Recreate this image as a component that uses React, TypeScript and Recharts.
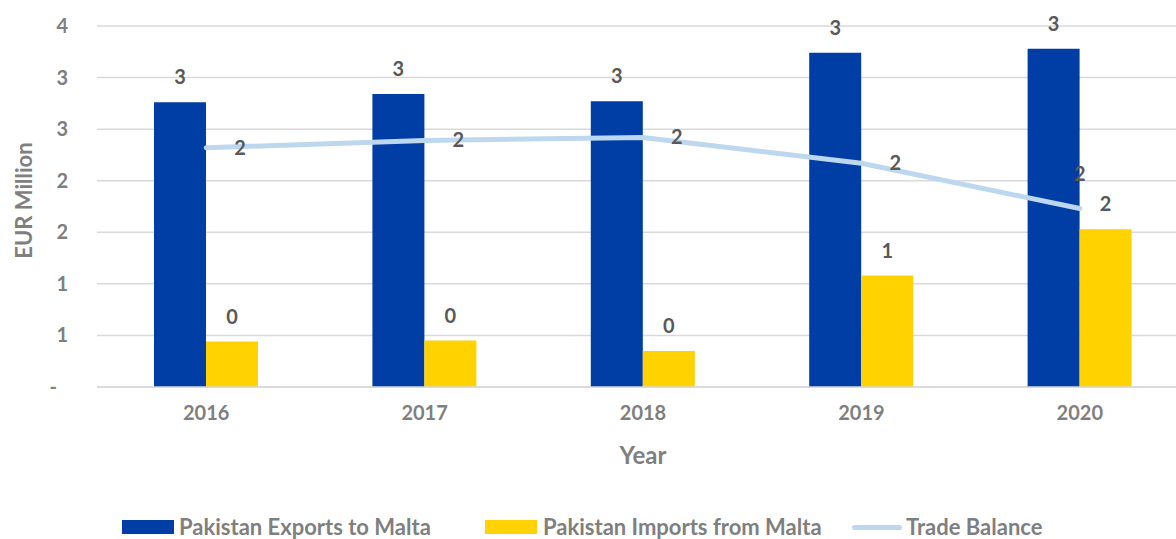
import React from 'react'
import {
  ComposedChart,
  Bar,
  Line,
  XAxis,
  YAxis,
  CartesianGrid,
  LabelList,
  Label
} from 'recharts'

const years = ['2016', '2017', '2018', '2019', '2020']
const exportsToMalta = [2.76, 2.84, 2.77, 3.24, 3.28]
const importsFromMalta = [0.44, 0.45, 0.35, 1.08, 1.53]
const tradeBalance = [2.32, 2.39, 2.42, 2.17, 1.73]
const yTicks = [0, 0.5, 1, 1.5, 2, 2.5, 3, 3.5]

const FONT = 'Lato, "Open Sans", sans-serif'
const AXIS_COLOR = '#7f7f7f'
const LABEL_COLOR = '#595959'
const BLUE = '#003DA5'
const YELLOW = '#FFD200'
const LIGHT_BLUE = '#BDD7EE'

const data = years.map((year, i) => ({
  year,
  exports: exportsToMalta[i],
  imports: importsFromMalta[i],
  balance: tradeBalance[i],
}))

const fmt = (v: number) => String(Math.round(v))

function YTick({ x, y, payload }: any) {
  const v = payload.value
  return (
    <text
      x={v === 0 ? x - 11 : x}
      y={y}
      dy={7}
      textAnchor="end"
      fill={AXIS_COLOR}
      fontSize={20}
      fontWeight={700}
      fontFamily={FONT}
    >
      {v === 0 ? '-' : fmt(v)}
    </text>
  )
}

function BalanceLabel({ x, y, value, index }: any) {
  const last = index === years.length - 1
  return (
    <text
      x={last ? x : x + 28}
      y={last ? y - 28 : y + 7}
      textAnchor={last ? 'middle' : 'start'}
      fill={LABEL_COLOR}
      fontSize={20}
      fontWeight={700}
      fontFamily={FONT}
    >
      {fmt(value)}
    </text>
  )
}

function YTitle({ viewBox }: any) {
  const cy = viewBox.y + viewBox.height / 2 - 6
  return (
    <text
      transform={`translate(23, ${cy}) rotate(-90)`}
      textAnchor="middle"
      dominantBaseline="central"
      fill={AXIS_COLOR}
      fontSize={22}
      fontWeight={700}
      fontFamily={FONT}
    >
      EUR Million
    </text>
  )
}

function LegendBox() {
  const text = { color: AXIS_COLOR, fontSize: 22, fontWeight: 700, fontFamily: FONT, lineHeight: '22px' }
  const item = { display: 'flex', alignItems: 'center', position: 'absolute' as const, top: 516 }
  return (
    <>
      <div style={{ ...item, left: 122 }}>
        <div style={{ width: 52, height: 14, background: BLUE, marginRight: 5 }} />
        <span style={text}>Pakistan Exports to Malta</span>
      </div>
      <div style={{ ...item, left: 485 }}>
        <div style={{ width: 52, height: 14, background: YELLOW, marginRight: 6 }} />
        <span style={text}>Pakistan Imports from Malta</span>
      </div>
      <div style={{ ...item, left: 852 }}>
        <div style={{ width: 50, height: 5, borderRadius: 3, background: LIGHT_BLUE, marginRight: 4 }} />
        <span style={text}>Trade Balance</span>
      </div>
    </>
  )
}

export default function App() {
  return (
    <div
      style={{
        position: 'absolute',
        left: 0,
        top: 0,
        width: 1176,
        height: 539,
        overflow: 'hidden',
        background: '#fff',
      }}
    >
      <ComposedChart
        width={1190}
        height={539}
        data={data}
        margin={{ top: 26, right: 1, left: 0, bottom: 0 }}
        barGap={0}
      >
        <CartesianGrid vertical={false} stroke="#d9d9d9" strokeWidth={1.5} />
        <XAxis
          dataKey="year"
          height={152}
          tickLine={false}
          tickSize={0}
          tickMargin={19}
          axisLine={{ stroke: '#d9d9d9', strokeWidth: 1.5 }}
          tick={{ fill: AXIS_COLOR, fontSize: 20, fontWeight: 700, fontFamily: FONT }}
        >
          <Label
            value="Year"
            position="insideTop"
            offset={60}
            fill={AXIS_COLOR}
            fontSize={24}
            fontWeight={700}
            fontFamily={FONT}
          />
        </XAxis>
        <YAxis
          width={97}
          domain={[0, 3.5]}
          ticks={yTicks}
          interval={0}
          axisLine={false}
          tickLine={false}
          tickSize={0}
          tickMargin={29}
          tick={<YTick />}
        >
          <Label content={<YTitle />} position="insideLeft" />
        </YAxis>
        <Bar dataKey="exports" fill={BLUE} barSize={52} isAnimationActive={false}>
          <LabelList
            dataKey="exports"
            position="top"
            offset={18}
            formatter={(v: any) => fmt(Number(v))}
            fill={LABEL_COLOR}
            fontSize={20}
            fontWeight={700}
            fontFamily={FONT}
          />
        </Bar>
        <Bar dataKey="imports" fill={YELLOW} barSize={52} isAnimationActive={false}>
          <LabelList
            dataKey="imports"
            position="top"
            offset={18}
            formatter={(v: any) => fmt(Number(v))}
            fill={LABEL_COLOR}
            fontSize={20}
            fontWeight={700}
            fontFamily={FONT}
          />
        </Bar>
        <Line
          dataKey="balance"
          type="linear"
          stroke={LIGHT_BLUE}
          strokeWidth={5}
          strokeLinecap="round"
          dot={false}
          activeDot={false}
          isAnimationActive={false}
        >
          <LabelList dataKey="balance" content={<BalanceLabel />} />
        </Line>
      </ComposedChart>
      <LegendBox />
    </div>
  )
}
